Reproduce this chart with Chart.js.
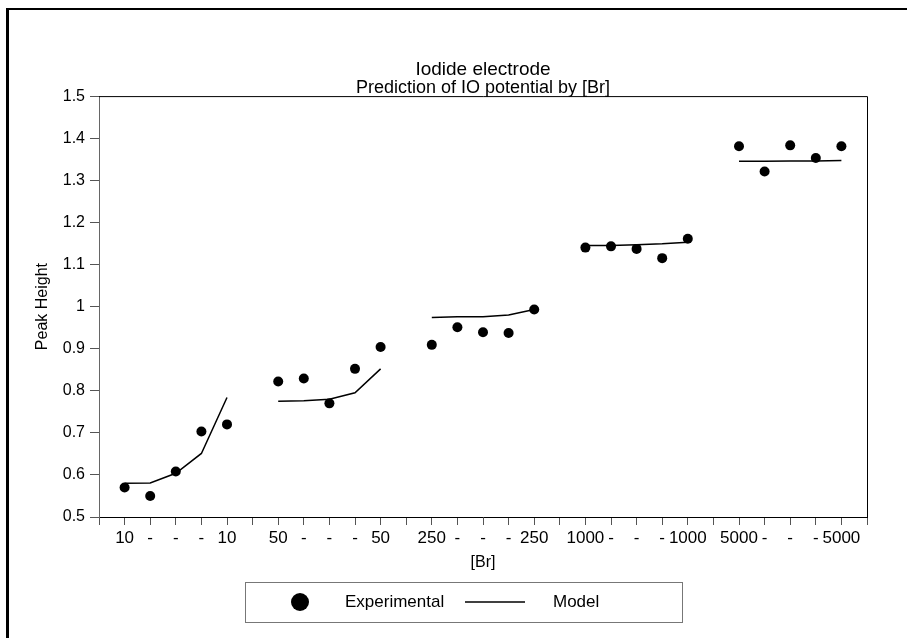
<!DOCTYPE html>
<html lang="en">
<head>
  <meta charset="UTF-8">
  <title>Iodide electrode</title>
  <script src="https://cdn.jsdelivr.net/npm/chart.js"></script>
  <style>
    body { margin: 0; background: #fff; }
    #wrap { position: relative; width: 907px; height: 638px; overflow: hidden; }
    #chart { position: absolute; left: 0; top: 0; }
    #frame {
      position: absolute; left: 6px; top: 8px; width: 1000px; height: 1000px;
      border-left: 3px solid #000; border-top: 2px solid #000; pointer-events: none;
    }
  </style>
</head>
<body>
<div id="wrap">
  <canvas id="chart" width="907" height="638"></canvas>
  <div id="frame"></div>
</div>

<script>
  // [Br] levels along the x axis ('' = empty slot between groups)
  const brLabels = ['', '10', '-', '-', '-', '10', '', '50', '-', '-', '-', '50', '',
    '250', '-', '-', '-', '250', '', '1000', '-', '-', '-', '1000', '',
    '5000', '-', '-', '-', '5000', ''];

  const experimental = [null, 0.570, 0.550, 0.608, 0.703, 0.720, null,
    0.822, 0.829, 0.770, 0.852, 0.904, null,
    0.909, 0.951, 0.939, 0.937, 0.993, null,
    1.140, 1.143, 1.137, 1.115, 1.161, null,
    1.381, 1.321, 1.383, 1.353, 1.381, null];

  const model = [null, 0.580, 0.581, 0.604, 0.651, 0.784, null,
    0.775, 0.776, 0.780, 0.795, 0.852, null,
    0.974, 0.976, 0.976, 0.980, 0.993, null,
    1.145, 1.145, 1.147, 1.149, 1.153, null,
    1.345, 1.345, 1.346, 1.346, 1.347, null];

  const FONT = '"Liberation Sans", Arial, Helvetica, sans-serif';
  Chart.defaults.font.family = FONT;
  Chart.defaults.color = '#000';

  // top + right edge of the plot box
  const plotBox = {
    id: 'plotBox',
    afterDraw(chart) {
      const { ctx, chartArea: a } = chart;
      ctx.save();
      ctx.strokeStyle = '#000';
      ctx.lineWidth = 1;
      ctx.beginPath();
      ctx.moveTo(a.left, a.top + 0.5);
      ctx.lineTo(a.right + 0.5, a.top + 0.5);
      ctx.lineTo(a.right + 0.5, a.bottom);
      ctx.stroke();
      ctx.restore();
    }
  };

  // boxed legend under the axis title
  const boxLegend = {
    id: 'boxLegend',
    afterDraw(chart) {
      const ctx = chart.ctx;
      const ds = chart.data.datasets;
      const cy = 602;
      ctx.save();
      ctx.strokeStyle = '#777';
      ctx.lineWidth = 1;
      ctx.strokeRect(245.5, 582.5, 437, 40);

      ctx.fillStyle = '#000';
      ctx.beginPath();
      ctx.arc(300, cy, 9, 0, Math.PI * 2);
      ctx.fill();

      ctx.font = '17px ' + FONT;
      ctx.textBaseline = 'middle';
      ctx.fillText(ds[0].label, 345, cy);

      ctx.strokeStyle = '#000';
      ctx.lineWidth = 1.5;
      ctx.beginPath();
      ctx.moveTo(465, cy);
      ctx.lineTo(525, cy);
      ctx.stroke();

      ctx.fillText(ds[1].label, 553, cy);
      ctx.restore();
    }
  };

  new Chart(document.getElementById('chart'), {
    type: 'line',
    data: {
      labels: brLabels,
      datasets: [
        {
          label: 'Experimental',
          data: experimental,
          showLine: false,
          pointRadius: 5,
          pointBackgroundColor: '#000',
          pointBorderWidth: 0
        },
        {
          label: 'Model',
          data: model,
          borderColor: '#000',
          borderWidth: 1.5,
          pointRadius: 0,
          tension: 0,
          spanGaps: false
        }
      ]
    },
    options: {
      responsive: false,
      animation: false,
      layout: { padding: { top: 60, left: 0, right: 40, bottom: 66 } },
      plugins: {
        legend: { display: false },
        tooltip: { enabled: false },
        title: {
          display: true,
          fullSize: false,
          text: 'Iodide electrode',
          font: { size: 19, weight: 'normal', lineHeight: 1 },
          padding: { top: 0, bottom: 0 }
        },
        subtitle: {
          display: true,
          fullSize: false,
          text: 'Prediction of IO potential by [Br]',
          color: '#000',
          font: { size: 18, lineHeight: 0.95 },
          padding: { top: 0, bottom: 0 }
        }
      },
      scales: {
        x: {
          type: 'category',
          offset: false,
          grid: { drawOnChartArea: false, drawTicks: true, tickLength: 8, color: '#555' },
          border: { color: '#000', width: 1 },
          ticks: { autoSkip: false, maxRotation: 0, font: { size: 17 }, padding: 3 },
          title: { display: true, text: '[Br]', font: { size: 16 }, padding: { top: 0, bottom: 0 } },
          afterFit(s) { s.height = 55; }
        },
        y: {
          min: 0.5,
          max: 1.5,
          grid: { drawOnChartArea: false, drawTicks: true, tickLength: 9, color: '#555' },
          border: { color: '#666', width: 1 },
          ticks: {
            stepSize: 0.1,
            font: { size: 16 },
            padding: 5,
            callback: v => String(Number(v.toFixed(2)))
          },
          title: { display: true, text: 'Peak Height', font: { size: 16 }, padding: { top: 33, bottom: 0 } },
          afterFit(s) { s.width = 99; }
        }
      }
    },
    plugins: [plotBox, boxLegend]
  });
</script>
</body>
</html>
